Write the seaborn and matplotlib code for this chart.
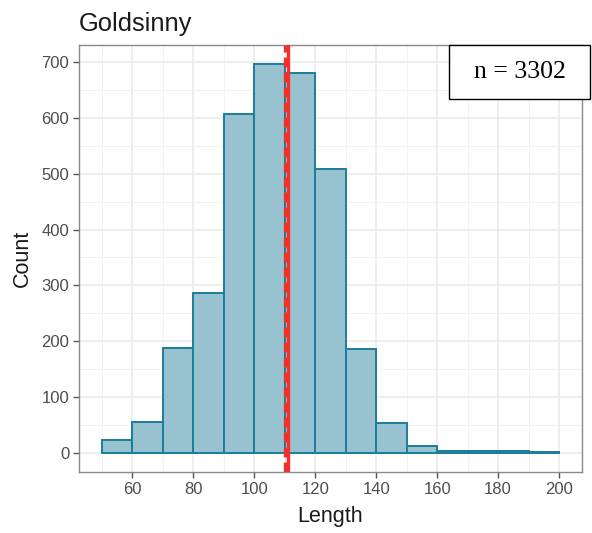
import numpy as np
import pandas as pd
import matplotlib
matplotlib.use("Agg")
import matplotlib.pyplot as plt
import seaborn as sns
from matplotlib.ticker import MultipleLocator
from matplotlib.patches import Rectangle

# Data
bin_edges = [50, 60, 70, 80, 90, 100, 110, 120, 130, 140, 150, 160, 170, 180, 190, 200]
counts = [22, 55, 187, 287, 607, 696, 680, 508, 186, 53, 12, 3, 3, 3, 1]
mean_length = 111.0
median_length = 110.0
n_label = "n = 3302"
title = "Goldsinny"

centers = [(a + b) / 2 for a, b in zip(bin_edges[:-1], bin_edges[1:])]
df = pd.DataFrame({"Length": centers, "Count": counts})

sns.set_theme(style="white")
plt.rcParams['font.family'] = ['Liberation Sans', 'DejaVu Sans']

fig = plt.figure(figsize=(5.92, 5.33), dpi=100)
ax = fig.add_axes([0.1334, 0.1144, 0.983 - 0.1334, 0.9156 - 0.1144])

sns.histplot(data=df, x="Length", weights="Count", bins=bin_edges, ax=ax,
             color="#98C2CF", edgecolor="#1A7E9B", linewidth=1.4, alpha=1.0, zorder=3)

ax.axvline(mean_length, color="#FF2A2A", lw=2.4, zorder=5)
ax.axvline(median_length, color="#E8352B", lw=2.4, ls=(0, (3, 1.5)), zorder=6)

ax.set_xlim(42.5, 207.5)
ax.set_ylim(-34.8, 730.8)
ax.xaxis.set_minor_locator(MultipleLocator(10))
ax.yaxis.set_major_locator(MultipleLocator(100))
ax.yaxis.set_minor_locator(MultipleLocator(50))
ax.set_xticks(range(60, 201, 20))
ax.grid(which="major", color="#EBEBEB", lw=1.2, zorder=0)
ax.grid(which="minor", color="#F2F2F2", lw=0.7, zorder=0)
ax.set_axisbelow(True)

for s in ax.spines.values():
    s.set_color("#8A8A8A")
    s.set_linewidth(1.0)
ax.tick_params(axis="both", which="major", length=4, width=1.0, color="#555555",
               labelsize=12, labelcolor="#4D4D4D", bottom=True, left=True, pad=3)
ax.tick_params(axis="both", which="minor", length=0)

ax.set_xlabel("Length", fontsize=15.5, color="#1A1A1A", labelpad=7)
ax.set_ylabel("Count", fontsize=15.5, color="#1A1A1A", labelpad=6)
ax.set_title(title, loc="left", fontsize=18.4, color="#1A1A1A", pad=10, x=0.0)

# n label box
bx0, bx1 = 449 / 592, 590 / 592
by0, by1 = 1 - 99 / 533, 1 - 45 / 533
fig.patches.append(Rectangle((bx0, by0), bx1 - bx0, by1 - by0, transform=fig.transFigure,
                             fc="white", ec="black", lw=1.0, zorder=10))
fig.text((bx0 + bx1) / 2, (by0 + by1) / 2, n_label, fontsize=18.5,
         family=["Liberation Serif", "DejaVu Serif"],
         ha="center", va="center", color="black", zorder=11)

fig.savefig("out.png", dpi=100)
